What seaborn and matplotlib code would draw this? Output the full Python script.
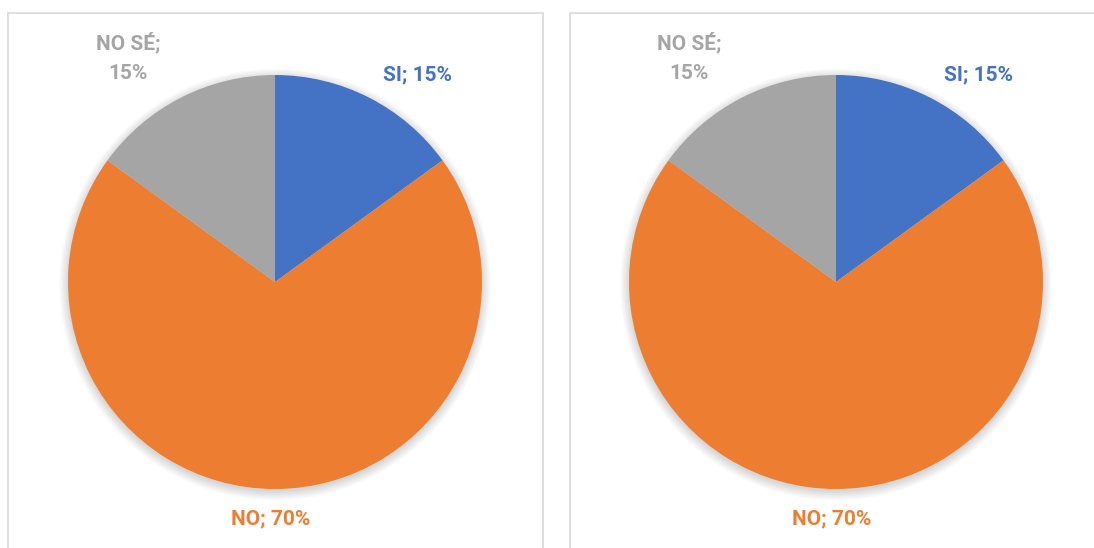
import matplotlib
matplotlib.use("Agg")
import matplotlib.pyplot as plt
import seaborn as sns
from matplotlib.patches import Rectangle, Circle

categories = ["SI", "NO", "NO SÉ"]
values_left = [15, 70, 15]
values_right = [15, 70, 15]
label_pos = {"SI": (0.69, 1.0), "NO": (-0.02, -1.145), "NO SÉ": (-0.71, 1.085)}

sns.set_theme(style="white")
plt.rcParams["font.family"] = ["Roboto", "DejaVu Sans"]
colors = sns.color_palette(["#4472C4", "#ED7D31", "#A5A5A5"])

W, H = 1094, 548
fig = plt.figure(figsize=(W / 100, H / 100), dpi=100)

R = 207  # pie radius in px
half = 267


def draw_pie(cx, cy, values):
    ax = fig.add_axes([(cx - half) / W, (H - cy - half) / H, 2 * half / W, 2 * half / H])
    # soft shadow
    for i in range(8):
        ax.add_patch(Circle((0, -0.012), 1 + 0.006 * i, color="black", alpha=0.018, lw=0, zorder=0))
    ax.pie(values, colors=colors, startangle=90, counterclock=False,
           wedgeprops=dict(linewidth=0), radius=1)
    for cat, v, c in zip(categories, values, colors):
        x, y = label_pos[cat]
        txt = f"{cat};\n{v}%" if cat == "NO SÉ" else f"{cat}; {v}%"
        ax.text(x, y, txt, ha="center", va="center", color=c, fontsize=15,
                fontweight="bold", linespacing=1.7)
    ax.set_xlim(-half / R, half / R)
    ax.set_ylim(-half / R, half / R)
    ax.set_aspect("equal")
    ax.axis("off")


# panel borders
fig.patches.append(Rectangle((8 / W, -0.01), 535 / W, (H - 13) / H + 0.01, transform=fig.transFigure,
                             fill=False, edgecolor="#D9D9D9", lw=1.2))
fig.patches.append(Rectangle((570 / W, -0.01), 540 / W, (H - 13) / H + 0.01, transform=fig.transFigure,
                             fill=False, edgecolor="#D9D9D9", lw=1.2))

draw_pie(275, 282, values_left)
draw_pie(836, 282, values_right)

fig.savefig("out.png", dpi=100)
